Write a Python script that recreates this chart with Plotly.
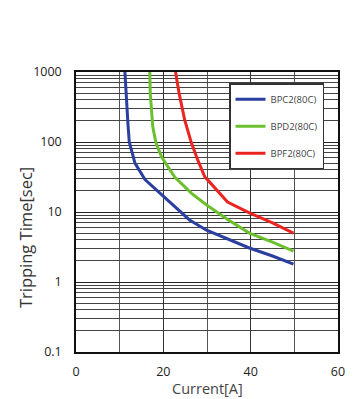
import plotly.graph_objects as go

# Data
bpc2_current = [11.2, 11.5, 11.9, 12.2, 13.5, 15.8, 19.2, 23.0, 26.0, 29.9, 35.0, 39.7, 45.0, 49.8]
bpc2_time    = [1000, 400, 180, 100, 50, 29, 18.6, 11.4, 7.7, 5.5, 4.1, 3.06, 2.35, 1.8]

bpd2_current = [16.9, 17.0, 17.6, 18.3, 19.6, 22.6, 26.4, 29.9, 35.0, 39.7, 45.0, 49.8]
bpd2_time    = [1000, 500, 162, 98, 61, 31.6, 18.6, 12.6, 7.6, 5.0, 3.7, 2.77]

bpf2_current = [22.8, 23.6, 24.9, 26.4, 27.9, 29.5, 30.1, 34.7, 39.7, 45.0, 49.8]
bpf2_time    = [1000, 500, 206, 98, 55, 31.6, 29, 13.9, 9.7, 7.0, 5.0]

series_names = ["BPC2(80C)", "BPD2(80C)", "BPF2(80C)"]
series_colors = ["#2b3fa0", "#6cc02e", "#ec2420"]

x_ticks = [0, 20, 40, 60]
y_ticks = [0.1, 1, 10, 100, 1000]
y_tick_labels = ["0.1", "1", "10", "100", "1000"]

FONT = "Open Sans"

fig = go.Figure()
for name, xs, ys, col in zip(series_names,
                             [bpc2_current, bpd2_current, bpf2_current],
                             [bpc2_time, bpd2_time, bpf2_time],
                             series_colors):
    fig.add_trace(go.Scatter(x=xs, y=ys, mode="lines", name=name,
                             legendgroup=name,
                             line=dict(color=col, width=3)))

fig.update_layout(
    width=354, height=399,
    margin=dict(l=76, r=16, t=72, b=47, autoexpand=False),
    paper_bgcolor="white", plot_bgcolor="white",
    font=dict(family=FONT, color="#222"),
    showlegend=True,
    legend=dict(x=0.584, y=0.96, xanchor="left", yanchor="top",
                bgcolor="white", bordercolor="#333", borderwidth=1.5,
                font=dict(size=9.5, color="#444"),
                tracegroupgap=8, itemwidth=30,
                ),
    annotations=[
        dict(text="Tripping Time[sec]", textangle=-90, xref="paper", yref="paper",
             x=-0.195, y=0.41, xanchor="center", yanchor="middle", showarrow=False,
             font=dict(size=16.5, color="#333")),
        dict(text="Current[A]", xref="paper", yref="paper",
             x=0.5, y=-0.132, xanchor="center", yanchor="middle", showarrow=False,
             font=dict(size=14.5, color="#444")),
    ],
)

fig.update_xaxes(
    range=[0, 60], tickvals=x_ticks, dtick=10, automargin=False,
    showgrid=True, gridcolor="#333", gridwidth=1,
    minor=dict(dtick=10, showgrid=True, gridcolor="#555", gridwidth=1),
    showline=True, linecolor="#111", linewidth=1.5, mirror=True,
    ticks="outside", ticklen=7, tickcolor="rgba(0,0,0,0)",
    tickfont=dict(size=12.5, color="#222"),
    zeroline=False,
)
fig.update_yaxes(
    type="log", range=[-1, 3], tickvals=y_ticks, ticktext=y_tick_labels, automargin=False,
    showgrid=True, gridcolor="#222", gridwidth=1,
    minor=dict(dtick="D1", showgrid=True, gridcolor="#444", gridwidth=1),
    showline=True, linecolor="#111", linewidth=1.5, mirror=True,
    ticks="outside", ticklen=10, tickcolor="rgba(0,0,0,0)",
    tickfont=dict(size=12.5, color="#222"),
    zeroline=False,
)

fig.write_html("out.html")
